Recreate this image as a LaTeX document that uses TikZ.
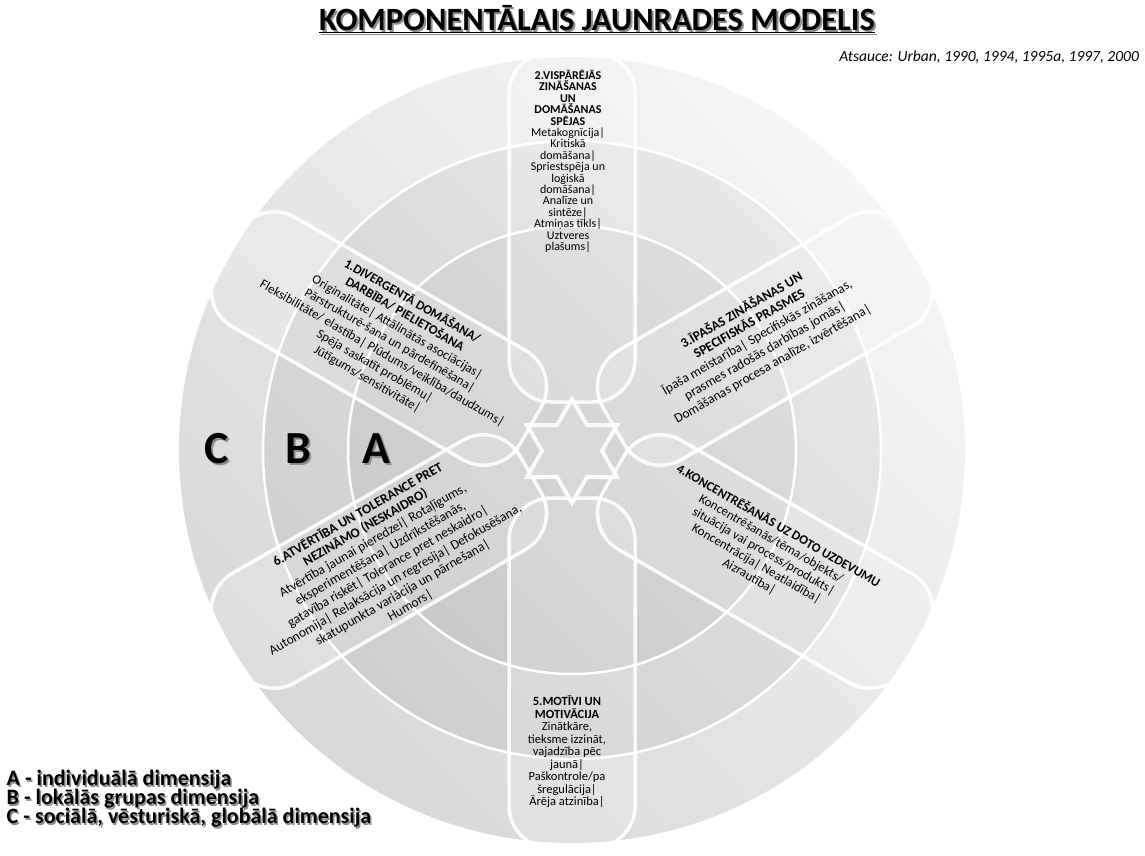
\documentclass[tikz,border=0pt]{standalone}
\usepackage{fontspec}
\setmainfont{Carlito}
\begin{document}
\begin{tikzpicture}[x=1pt,y=-1pt,
  ringline/.style={draw=white, line width=2.5pt},
  petal/.style={draw=white, line width=3.5pt, draw opacity=0.9, fill=white, fill opacity=0.15, rounded corners=42pt},
  starshape/.style={draw=white, line width=4pt, draw opacity=0.9, fill=black!15},
  petaltext/.style={align=center, inner sep=0pt, text=black},
  shadowtext/.style={text=black!45},
  ringletter/.style={font=\fontsize{46}{46}\selectfont\bfseries, inner sep=0pt},
  legend/.style={anchor=west, font=\fontsize{22}{22}\selectfont\bfseries, inner sep=0pt},
]
\useasboundingbox (0,0) rectangle (1145,855);
\fill[white] (0,0) rectangle (1145,855);

% three dimension rings, lit from the upper right
\coordinate (O) at (572,450);
\shade[left color=black!15, right color=black!4, shading angle=135] (O) circle[radius=393];
\shade[left color=black!19, right color=black!9, shading angle=135] (O) circle[radius=309];
\shade[left color=black!21, right color=black!13, shading angle=135] (O) circle[radius=224];
\draw[ringline] (O) circle[radius=309];
\draw[ringline] (O) circle[radius=224];

% six component petals
\foreach \a in {90,150,30,-30,-90,210} {
  \begin{scope}[shift={(O)}, rotate=\a]
    \path[petal] (48,-63) rectangle (398,63);
  \end{scope}
}

% central star
\begin{scope}[shift={(572,451)}, y=1pt]
  \path[starshape] (90:52) -- (60:30) -- (30:52) -- (0:30) -- (-30:52) -- (-60:30)
    -- (-90:52) -- (-120:30) -- (-150:52) -- (180:30) -- (150:52) -- (120:30) -- cycle;
\end{scope}

% heading and source
\node[shadowtext, inner sep=0pt, font=\fontsize{32.5}{33}\selectfont\bfseries] (titleshadow) at (599,21)
  {\underline{KOMPONENTĀLAIS JAUNRADES MODELIS}};
\node[inner sep=0pt, font=\fontsize{32.5}{33}\selectfont\bfseries] (title) at (597,19)
  {\underline{KOMPONENTĀLAIS JAUNRADES MODELIS}};
\node[anchor=east, inner sep=0pt, font=\fontsize{15.5}{16}\selectfont\itshape] (src) at (1139,57)
  {Atsauce: Urban, 1990, 1994, 1995a, 1997, 2000};

% ring letters
\foreach \l/\x in {C/217, B/298, A/376} {
  \node[ringletter, shadowtext] (sh\l) at (\x+2,451) {\l};
  \node[ringletter] (ring\l) at (\x,449) {\l};
}

% petal texts
\node[petaltext, anchor=north, font=\fontsize{12}{11.4}\selectfont] (p2) at (568,70)
  {\textbf{2.VISPĀRĒJĀS}\\ \textbf{ZINĀŠANAS}\\ \textbf{UN}\\ \textbf{DOMĀŠANAS}\\ \textbf{SPĒJAS}\\
   Metakognīcija|\\ Kritiskā\\ domāšana|\\ Spriestspēja un\\ loģiskā\\ domāšana|\\
   Analīze un\\ sintēze|\\ Atmiņas tīkls|\\ Uztveres\\ plašums|};

\node[petaltext, anchor=north, font=\fontsize{12.5}{12.5}\selectfont] (p5) at (567,696)
  {\textbf{5.MOTĪVI UN}\\ \textbf{MOTIVĀCIJA}\\ Zinātkāre,\\ tieksme izzināt,\\ vajadzība pēc\\
   jaunā|\\ Paškontrole/pa\\ šregulācija|\\ Ārēja atzinība|};

\node[petaltext, rotate=-30, font=\fontsize{13}{15}\selectfont] (p1) at (390,340)
  {\textbf{1.DIVERGENTĀ DOMĀŠANA/}\\ \textbf{DARBĪBA/ PIELIETOŠANA}\\
   Originalitāte| Attālinātās asociācijas|\\ Pārstrukturē-šana un pārdefinēšana|\\
   Fleksibilitāte/ elastība| Plūdums/veiklība/daudzums|\\ Spēja saskatīt problēmu|\\
   Jūtīgums/sensitivitāte|};

\node[petaltext, rotate=30, font=\fontsize{13.5}{15.5}\selectfont] (p3) at (757,337)
  {\textbf{3.ĪPAŠAS ZINĀŠANAS UN}\\ \textbf{SPECIFISKĀS PRASMES}\\
   Īpaša meistarība| Specifiskās zināšanas,\\ prasmes radošās darbības jomās|\\
   Domāšanas procesa analīze, izvērtēšana|};

\node[petaltext, rotate=-30, font=\fontsize{13}{14.5}\selectfont] (p4) at (764,551)
  {\textbf{4.KONCENTRĒŠANĀS UZ DOTO UZDEVUMU}\\ Koncentrēšanās/tēma/objekts/\\
   situācija vai process/produkts|\\ Koncentrācija| Neatlaidība|\\ Aizrautība|};

\node[petaltext, rotate=30, font=\fontsize{13.5}{15}\selectfont] (p6) at (384,560)
  {\textbf{6.ATVĒRTĪBA UN TOLERANCE PRET}\\ \textbf{NEZINĀMO (NESKAIDRO)}\\
   Atvērtība jaunai pieredzei| Rotaļīgums,\\ eksperimentēšana| Uzdrīkstēšanās,\\
   gatavība riskēt| Tolerance pret neskaidro|\\
   Autonomija| Relaksācija un regresija| Defokusēšana,\\
   skatupunkta variācija un pārnešana|\\ Humors|};

% legend
\foreach \i/\t in {1/{A - individuālā dimensija}, 2/{B - lokālās grupas dimensija},
                  3/{C - sociālā, vēsturiskā, globālā dimensija}} {
  \node[legend, shadowtext] (legsh\i) at (8,761+19*\i+1.5) {\t};
  \node[legend] (leg\i) at (6.5,761+19*\i) {\t};
}
\end{tikzpicture}
\end{document}
